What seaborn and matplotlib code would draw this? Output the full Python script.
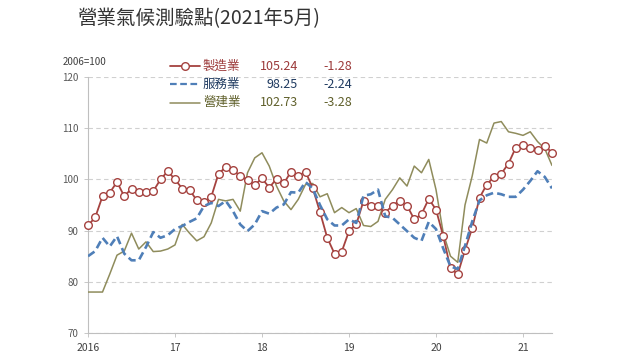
import numpy as np
import pandas as pd
import matplotlib
matplotlib.use("Agg")
import matplotlib.pyplot as plt
import seaborn as sns
from matplotlib.lines import Line2D

# ---------------- data ----------------
series_names = ["製造業", "服務業", "營建業"]
x_tick_pos = [0, 12, 24, 36, 48, 60]
x_tick_labels = ["2016", "17", "18", "19", "20", "21"]
y_ticks = [70, 80, 90, 100, 110, 120]

manufacturing = [
    91.0, 92.6, 96.7, 97.4, 99.5, 96.7, 98.2, 97.6, 97.5, 97.7, 100.0, 101.6,
    100.0, 98.2, 98.0, 95.9, 95.6, 96.6, 101.1, 102.4, 101.8, 100.7, 99.9, 98.9,
    100.2, 98.4, 100.1, 99.2, 101.5, 100.7, 101.5, 98.3, 93.6, 88.6, 85.5, 85.9,
    89.9, 91.2, 95.8, 94.8, 94.8, 93.5, 94.9, 95.8, 94.9, 92.2, 93.2, 96.2,
    94.1, 88.9, 82.6, 81.5, 86.2, 90.5, 96.4, 99.0, 100.5, 101.1, 103.1, 106.2,
    106.7, 106.2, 105.7, 106.52, 105.24]
services = [
    85.0, 86.0, 88.6, 86.9, 88.9, 85.5, 84.2, 84.2, 86.8, 89.7, 88.6, 89.1,
    90.3, 90.9, 91.7, 92.4, 94.8, 95.4, 94.8, 95.8, 93.8, 91.2, 89.9, 91.2,
    93.8, 93.3, 94.5, 95.1, 97.5, 97.4, 99.5, 98.2, 95.0, 92.2, 91.0, 91.0,
    92.2, 91.5, 96.8, 97.1, 98.0, 92.8, 92.5, 91.2, 89.9, 88.6, 88.0, 91.7,
    90.3, 86.5, 83.0, 82.5, 87.0, 91.8, 95.9, 96.9, 97.4, 97.1, 96.6, 96.6,
    98.0, 99.7, 101.6, 100.49, 98.25]
construction = [
    78.0, 78.0, 78.0, 81.5, 85.2, 86.0, 89.5, 86.4, 87.8, 85.9, 86.0, 86.4,
    87.2, 91.2, 89.5, 88.0, 88.8, 91.5, 96.1, 95.8, 96.1, 93.8, 101.3, 104.2,
    105.2, 102.6, 98.7, 95.8, 94.1, 96.1, 99.0, 99.2, 96.6, 97.2, 93.5, 94.5,
    93.5, 94.3, 91.0, 90.8, 91.8, 96.1, 98.0, 100.3, 98.7, 102.6, 101.3, 103.9,
    98.0, 89.5, 85.0, 83.8, 95.0, 100.7, 107.8, 107.1, 111.0, 111.3, 109.3, 109.0,
    108.6, 109.3, 107.4, 106.01, 102.73]
months = list(range(len(manufacturing)))

# ---------------- style ----------------
sns.set_theme(style="white")
plt.rcParams["font.family"] = ["Noto Sans CJK TC", "DejaVu Sans"]

red = "#a5423f"
blue = "#4f7fb8"
olive = "#8f8c5c"
txt_colors = ["#9c3a3a", "#1f3a60", "#5f5f2a"]

W, H = 640, 360
fig = plt.figure(figsize=(6.4, 3.6), dpi=100)
ax = fig.add_axes([88 / W, 1 - 333 / H, (552 - 88) / W, (333 - 77) / H])

df = pd.DataFrame({"month": months, "m": manufacturing, "s": services, "c": construction})

sns.lineplot(data=df, x="month", y="c", color=olive, linewidth=1.1, ax=ax, zorder=3)
sns.lineplot(data=df, x="month", y="m", color=red, linewidth=1.3, marker="o",
             markersize=5.5, markerfacecolor="white", markeredgecolor=red,
             markeredgewidth=1.0, ax=ax, zorder=4, clip_on=False)
sns.lineplot(data=df, x="month", y="s", color=blue, linewidth=1.9,
             linestyle=(0, (3, 1.6)), ax=ax, zorder=5)

ax.set_xlim(0, len(months) - 1)
ax.set_ylim(70, 120)
ax.set_xticks(x_tick_pos)
ax.set_xticklabels(x_tick_labels)
ax.set_yticks(y_ticks)
ax.set_yticklabels([str(v) for v in y_ticks])
ax.set_xlabel("")
ax.set_ylabel("")

ax.yaxis.grid(True, linestyle=(0, (4, 3)), color="#d0d0d0", linewidth=0.8)
ax.xaxis.grid(False)
ax.set_axisbelow(True)
for sp in ["top", "right"]:
    ax.spines[sp].set_visible(False)
for sp in ["left", "bottom"]:
    ax.spines[sp].set_color("#bfbfbf")
    ax.spines[sp].set_linewidth(0.8)
ax.tick_params(axis="x", direction="out", length=3, width=0.6, color="#bfbfbf",
               labelsize=7.5, labelcolor="#404040", pad=4, bottom=True)
ax.tick_params(axis="y", direction="out", length=3, width=0.6, color="#bfbfbf",
               labelsize=7, labelcolor="#595959", pad=4, left=True)

# ---------------- titles ----------------
fig.text(77 / W, 1 - 19 / H, "營業氣候測驗點(2021年5月)", fontsize=14,
         va="center", ha="left", color="#333333")
fig.text(63 / W, 1 - 62 / H, "2006=100", fontsize=7, va="center", ha="left",
         color="#404040")

# ---------------- custom legend ----------------
rows_y = [66, 84, 102.5]
data_list = [manufacturing, services, construction]
for k, (name, vals, yy) in enumerate(zip(series_names, data_list, rows_y)):
    fy = 1 - yy / H
    x0, x1 = 170 / W, 200 / W
    if k == 0:
        fig.add_artist(Line2D([x0, x1], [fy, fy], transform=fig.transFigure,
                              color=red, lw=1.3))
        fig.add_artist(Line2D([185 / W], [fy], transform=fig.transFigure,
                              marker="o", markersize=5.5, markerfacecolor="white",
                              markeredgecolor=red, markeredgewidth=1.0, lw=0))
    elif k == 1:
        fig.add_artist(Line2D([x0, x1], [fy, fy], transform=fig.transFigure,
                              color=blue, lw=1.6, linestyle=(0, (3, 1.6))))
    else:
        fig.add_artist(Line2D([x0, x1], [fy, fy], transform=fig.transFigure,
                              color=olive, lw=1.1))
    last = vals[-1]
    diff = vals[-1] - vals[-2]
    c = txt_colors[k]
    fig.text(203 / W, fy, name, fontsize=9, va="center", ha="left", color=c)
    fig.text(298 / W, fy, f"{last:.2f}", fontsize=9, va="center", ha="right", color=c)
    fig.text(323 / W, fy, f"{diff:.2f}", fontsize=9, va="center", ha="left", color=c)

fig.savefig("out.png", dpi=100, facecolor="white")
